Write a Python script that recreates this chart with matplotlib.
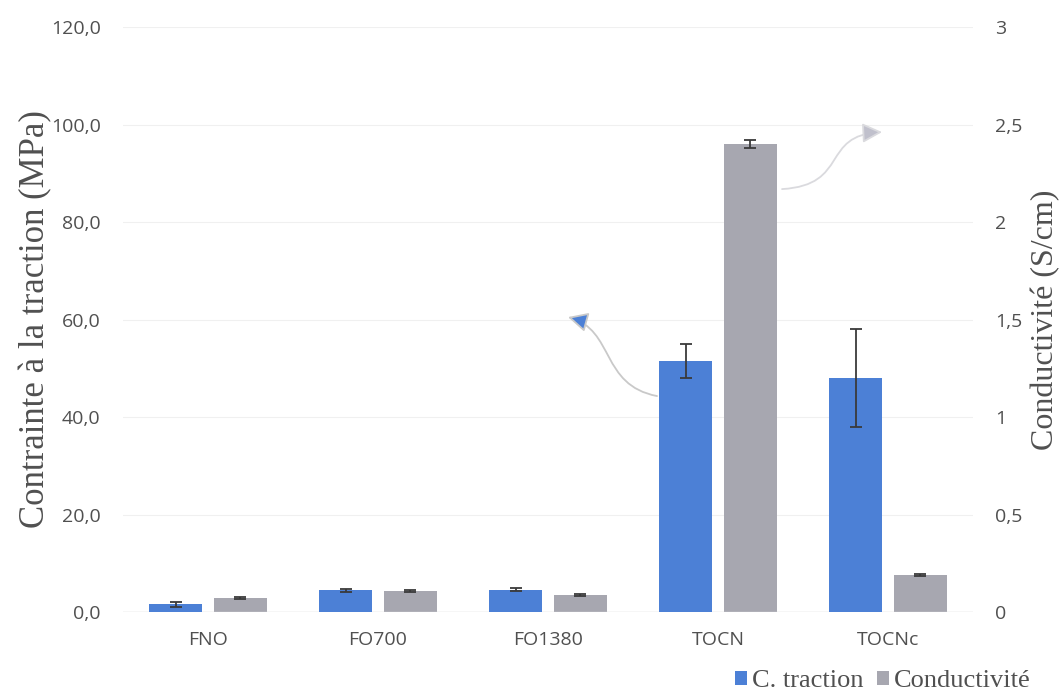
import matplotlib
matplotlib.use("Agg")
import matplotlib.pyplot as plt
import numpy as np
from matplotlib.patches import FancyArrowPatch
from matplotlib.path import Path

categories = ["FNO", "FO700", "FO1380", "TOCN", "TOCNc"]
traction = [1.6, 4.5, 4.6, 51.5, 48.0]
traction_err = [0.5, 0.3, 0.3, 3.5, 10.0]
conductivite = [0.072, 0.108, 0.088, 2.40, 0.19]
conductivite_err = [0.005, 0.005, 0.004, 0.022, 0.005]
left_ticks = [0, 20, 40, 60, 80, 100, 120]
left_ticklabels = ["0,0", "20,0", "40,0", "60,0", "80,0", "100,0", "120,0"]
right_ticks = [0, 0.5, 1, 1.5, 2, 2.5, 3]
right_ticklabels = ["0", "0,5", "1", "1,5", "2", "2,5", "3"]

blue = "#4C80D6"
gray = "#A7A7B0"
txt = "#505050"
tick_font = "Open Sans"
serif = "Liberation Serif"

fig = plt.figure(figsize=(10.6, 6.95), dpi=100)
ax = fig.add_axes([0.116, 0.1194, 0.802, 0.8416])
ax2 = ax.twinx()
ax.set_zorder(ax2.get_zorder() + 1)
ax.patch.set_visible(False)

x = np.arange(len(categories))
w = 0.31
gap = 0.035
ax.bar(x - w / 2 - gap, traction, w, color=blue, zorder=3, label="C. traction")
ax.errorbar(x - w / 2 - gap, traction, yerr=traction_err, fmt="none", ecolor="#3a3a3a",
            elinewidth=1.3, capsize=4, capthick=1.3, zorder=4)
ax2.bar(x + w / 2 + gap, conductivite, w, color=gray, zorder=3, label="Conductivité")
ax2.errorbar(x + w / 2 + gap, conductivite, yerr=conductivite_err, fmt="none", ecolor="#3a3a3a",
             elinewidth=1.3, capsize=4, capthick=1.3, zorder=4)

ax.set_xlim(-0.5, len(categories) - 0.5)
ax.set_ylim(0, 120)
ax2.set_ylim(0, 3)
ax.set_yticks(left_ticks)
ax.set_yticklabels(left_ticklabels, fontfamily=tick_font, fontsize=14, color=txt)
ax2.set_yticks(right_ticks)
ax2.set_yticklabels(right_ticklabels, fontfamily=tick_font, fontsize=14, color=txt)
ax.set_xticks(x)
ax.set_xticklabels(categories, fontfamily=tick_font, fontsize=14, color=txt)
ax.tick_params(axis="y", length=0, pad=16)
ax.tick_params(axis="x", length=0, pad=14)
ax2.tick_params(axis="y", length=0, pad=16)

ax2.yaxis.grid(True, color="#f0f0f0", linewidth=0.8, zorder=0)
ax2.set_axisbelow(True)
for a in (ax, ax2):
    for s in ["top", "left", "right", "bottom"]:
        a.spines[s].set_visible(False)
ax.axhline(0, color="#d9d9d9", linewidth=1, zorder=2)

ax.set_ylabel("Contrainte à la traction (MPa)", fontfamily=serif, fontsize=25, color=txt)
ax2.set_ylabel("Conductivité (S/cm)", fontfamily=serif, fontsize=23, color=txt)
ax.yaxis.set_label_coords(-0.083, 0.5)
ax2.yaxis.set_label_coords(1.068, 0.5)

# curved arrows (annotations)
def curved_arrow(p0, c1, c2, p1, color, hc):
    path = Path([p0, c1, c2, p1], [Path.MOVETO, Path.CURVE4, Path.CURVE4, Path.CURVE4])
    arr = FancyArrowPatch(path=path, arrowstyle="-|>,head_length=12,head_width=6",
                          linewidth=1.3, transform=ax.transAxes, zorder=5, mutation_scale=1)
    arr.set_edgecolor(color)
    arr.set_facecolor(hc)
    ax.add_patch(arr)

def fx(px):
    return (px - 123) / (973 - 123)

def fy(py):
    return (612 - py) / 585

curved_arrow((fx(657), fy(396)), (fx(600), fy(385)), (fx(615), fy(330)), (fx(568), fy(317)), "#c9c9c9", blue)
curved_arrow((fx(782), fy(189)), (fx(850), fy(185)), (fx(820), fy(135)), (fx(882), fy(132)), "#dadade", "#c0c0cc")

h1, l1 = ax.get_legend_handles_labels()
h2, l2 = ax2.get_legend_handles_labels()
fig.legend(h1 + h2, l1 + l2, loc="lower right", bbox_to_anchor=(0.995, -0.03), ncol=2,
           frameon=False, prop={"family": serif, "size": 19}, handlelength=0.45, handleheight=0.45,
           handletextpad=0.2, columnspacing=0.5, labelcolor=txt)

fig.savefig("out.png", dpi=100)
